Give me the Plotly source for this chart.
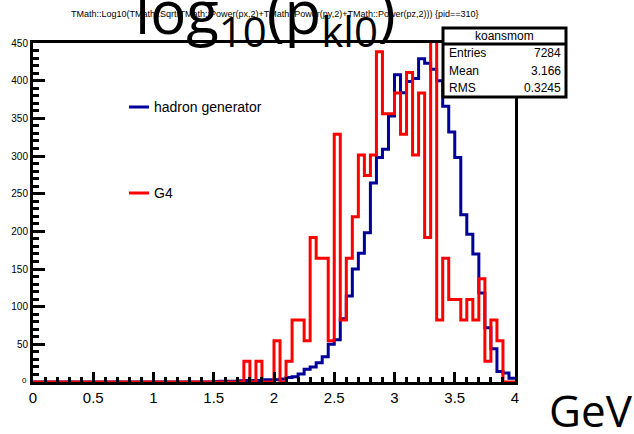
import plotly.graph_objects as go

# ---------------- data ----------------
bin_width = 0.05
x_min, x_max = 0.0, 4.0
n_bins = 80

hadron_start = 1.50
hadron_counts = [0.5, 1, 1, 1, 1.5, 2, 2, 2, 3, 3, 3, 4, 6, 7, 10.6, 17, 20, 25.7,
                 33.6, 50, 56, 84, 114, 150, 171, 198, 264, 298, 309, 353, 408,
                 384, 399, 403, 429, 423, 415, 400, 366, 332, 298, 222, 196, 170,
                 118, 72, 44, 14, 12, 5]

g4_start = 1.75
g4_counts = [27.4, 0, 27.4, 0, 0, 54.8, 0, 27.4, 82.2, 82.2, 54.8, 191.8, 164.4,
             164.4, 54.8, 328.8, 82.2, 164.4, 219.2, 301.4, 274, 301.4, 438.4,
             356.2, 356.2, 383.6, 328.8, 411, 301.4, 383.6, 191.8, 466, 82.2,
             164.4, 109.6, 109.6, 82.2, 109.6, 82.2, 137, 27.4, 82.2, 54.8, 0, 0]

x_tick_vals = [0, 0.5, 1, 1.5, 2, 2.5, 3, 3.5, 4]
x_tick_text = ["0", "0.5", "1", "1.5", "2", "2.5", "3", "3.5", "4"]
y_tick_vals = [0, 50, 100, 150, 200, 250, 300, 350, 400, 450]
y_tick_text = ["", "50", "100", "150", "200", "250", "300", "350", "400", "450"]

stats_title = "koansmom"
stats_rows = [("Entries", "7284"), ("Mean", "3.166"), ("RMS", "0.3245")]
legend_labels = ["hadron generator", "G4"]
title_small = ("TMath::Log10(TMath::Sqrt(TMath::Power(px,2)+TMath::Power(py,2)"
               "+TMath::Power(pz,2))) {pid==310}")


def full_hist(start, counts):
    first = int(round((start - x_min) / bin_width))
    vals = [0.0] * n_bins
    for i, c in enumerate(counts):
        vals[first + i] = c
    edges = [x_min + i * bin_width for i in range(n_bins)] + [x_max]
    return edges, vals + [vals[-1]]


hx, hy = full_hist(hadron_start, hadron_counts)
gx, gy = full_hist(g4_start, g4_counts)

# ---------------- geometry helpers (pixels -> paper) ----------------
W, H = 634, 434
L, R, T, B = 33, 515, 43, 382


def px(x):
    return (x - L) / (R - L)


def py(y):
    return (B - y) / (B - T)


fig = go.Figure()
fig.add_trace(go.Scatter(x=hx, y=hy, mode="lines", line=dict(shape="hv", color="#000099", width=3),
                         showlegend=False, hoverinfo="skip"))
fig.add_trace(go.Scatter(x=gx, y=gy, mode="lines", line=dict(shape="hv", color="#ff0000", width=3),
                         showlegend=False, hoverinfo="skip"))

axis_common = dict(showgrid=False, zeroline=False, showline=True, linecolor="black",
                   linewidth=3, mirror=True, ticks="inside", tickcolor="black",
                   tickwidth=3)

fig.update_xaxes(range=[x_min, x_max], tickvals=x_tick_vals, ticktext=x_tick_text,
                 ticklen=10, minor=dict(dtick=0.1, ticks="inside", ticklen=5, tickwidth=3,
                                        tickcolor="black"),
                 tickfont=dict(family="Liberation Sans", size=15, color="black"), **axis_common)
fig.update_yaxes(range=[0, 450], tickvals=y_tick_vals, ticktext=y_tick_text,
                 ticklen=12, minor=dict(dtick=10, ticks="inside", ticklen=6, tickwidth=3,
                                        tickcolor="black"),
                 tickfont=dict(family="Liberation Sans", size=10, color="black"), **axis_common)

shapes = []
annotations = []

# stats box
bx0, bx1, by0, byh, by1 = 443, 566, 28, 44, 97
shapes.append(dict(type="rect", xref="paper", yref="paper", x0=px(bx0), x1=px(bx1),
                   y0=py(by1), y1=py(by0), line=dict(color="black", width=3), fillcolor="white"))
shapes.append(dict(type="line", xref="paper", yref="paper", x0=px(bx0), x1=px(bx1),
                   y0=py(byh), y1=py(byh), line=dict(color="black", width=3)))
annotations.append(dict(text=stats_title, xref="paper", yref="paper", x=px((bx0 + bx1) / 2),
                        y=py(36), xanchor="center", yanchor="middle", showarrow=False,
                        font=dict(family="Liberation Sans", size=12, color="black")))
for i, (k, v) in enumerate(stats_rows):
    yy = 53 + i * 17.5
    annotations.append(dict(text=k, xref="paper", yref="paper", x=px(447), y=py(yy),
                            xanchor="left", yanchor="middle", showarrow=False,
                            font=dict(family="Liberation Sans", size=12, color="black")))
    annotations.append(dict(text=v, xref="paper", yref="paper", x=px(563), y=py(yy),
                            xanchor="right", yanchor="middle", showarrow=False,
                            font=dict(family="Liberation Sans", size=12, color="black")))

# legend
for lab, col, yy in zip(legend_labels, ["#000099", "#ff0000"], [107, 193]):
    shapes.append(dict(type="line", xref="paper", yref="paper", x0=px(129), x1=px(149),
                       y0=py(yy), y1=py(yy), line=dict(color=col, width=3)))
    annotations.append(dict(text=lab, xref="paper", yref="paper", x=px(152), y=py(yy),
                            xanchor="left", yanchor="middle", showarrow=False,
                            font=dict(family="Liberation Sans", size=14, color="black")))

# titles
annotations.append(dict(text=title_small, xref="paper", yref="paper", x=px(275), y=py(14),
                        xanchor="center", yanchor="middle", showarrow=False,
                        font=dict(family="Liberation Sans", size=9, color="black")))
annotations.append(dict(text="log<sub>10</sub>(p<sub>kl0</sub>)", xref="paper", yref="paper",
                        x=px(265), y=py(14), xanchor="center", yanchor="middle",
                        showarrow=False,
                        font=dict(family="Open Sans", size=60, color="black")))
annotations.append(dict(text="GeV", xref="paper", yref="paper", x=px(591), y=py(410),
                        xanchor="center", yanchor="middle", showarrow=False,
                        font=dict(family="Open Sans", size=44, color="black")))
annotations.append(dict(text="0", xref="paper", yref="paper", x=px(29), y=py(380),
                        xanchor="right", yanchor="middle", showarrow=False,
                        font=dict(family="Liberation Sans", size=8, color="black")))

fig.update_layout(width=W, height=H, margin=dict(l=L, r=W - R, t=T, b=H - B),
                  paper_bgcolor="white", plot_bgcolor="white",
                  shapes=shapes, annotations=annotations, showlegend=False)

fig.write_html("out.html")
